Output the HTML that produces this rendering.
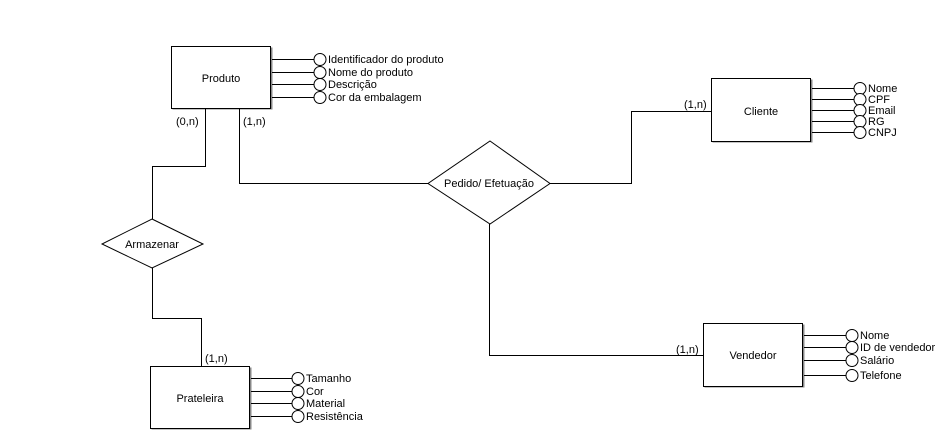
<!DOCTYPE html>
<html><head><meta charset="utf-8"><style>
html,body{margin:0;padding:0;background:#fff;}
svg{display:block;}
text{font-family:"Liberation Sans",sans-serif;font-size:11px;fill:#000;}
</style></head><body>
<svg width="947" height="437" viewBox="0 0 947 437" xmlns="http://www.w3.org/2000/svg">
<g stroke="#000" stroke-width="1" fill="none" shape-rendering="crispEdges">
<!-- shadows -->
<rect x="172.5" y="47.5" width="100" height="62" fill="#888" stroke="none"/>
<rect x="712.5" y="79.5" width="100" height="63" fill="#888" stroke="none"/>
<rect x="151.5" y="367.5" width="100" height="62" fill="#888" stroke="none"/>
<rect x="704.5" y="324.5" width="100" height="63" fill="#888" stroke="none"/>
<!-- boxes -->
<rect x="171.5" y="46.5" width="99" height="62" fill="#fff"/>
<rect x="711.5" y="78.5" width="99" height="63" fill="#fff"/>
<rect x="150.5" y="366.5" width="99" height="62" fill="#fff"/>
<rect x="703.5" y="323.5" width="99" height="63" fill="#fff"/>
<!-- connectors -->
<polyline points="205.5,109 205.5,166.5 152.5,166.5 152.5,219"/>
<polyline points="152.5,268 152.5,318.5 201.5,318.5 201.5,366"/>
<polyline points="239.5,109 239.5,183.5 428,183.5"/>
<polyline points="550,183.5 631.5,183.5 631.5,111.5 711,111.5"/>
<polyline points="489.5,224 489.5,355.5 703,355.5"/>
<!-- attribute lines -->
<line x1="272" y1="59.5" x2="314" y2="59.5"/>
<line x1="272" y1="72.5" x2="314" y2="72.5"/>
<line x1="272" y1="84.5" x2="314" y2="84.5"/>
<line x1="272" y1="97.5" x2="314" y2="97.5"/>
<line x1="812" y1="88.5" x2="854" y2="88.5"/>
<line x1="812" y1="99.5" x2="854" y2="99.5"/>
<line x1="812" y1="110.5" x2="854" y2="110.5"/>
<line x1="812" y1="121.5" x2="854" y2="121.5"/>
<line x1="812" y1="132.5" x2="854" y2="132.5"/>
<line x1="251" y1="378.5" x2="292" y2="378.5"/>
<line x1="251" y1="391.5" x2="292" y2="391.5"/>
<line x1="251" y1="403.5" x2="292" y2="403.5"/>
<line x1="251" y1="416.5" x2="292" y2="416.5"/>
<line x1="804" y1="335.5" x2="846" y2="335.5"/>
<line x1="804" y1="347.5" x2="846" y2="347.5"/>
<line x1="804" y1="360.5" x2="846" y2="360.5"/>
<line x1="804" y1="375.5" x2="846" y2="375.5"/>
</g>
<g stroke="#000" stroke-width="1" fill="#fff">
<polygon points="490,141 550,183.5 490,224 428,183.5"/>
<polygon points="152,219 203,244 152,268 102,244"/>
<circle cx="320" cy="59.5" r="6"/><circle cx="320" cy="72.5" r="6"/><circle cx="320" cy="84.5" r="6"/><circle cx="320" cy="97.5" r="6"/>
<circle cx="860" cy="88.5" r="6"/><circle cx="860" cy="99.5" r="6"/><circle cx="860" cy="110.5" r="6"/><circle cx="860" cy="121.5" r="6"/><circle cx="860" cy="132.5" r="6"/>
<circle cx="298" cy="378.5" r="6"/><circle cx="298" cy="391.5" r="6"/><circle cx="298" cy="403.5" r="6"/><circle cx="298" cy="416.5" r="6"/>
<circle cx="852" cy="335.5" r="6"/><circle cx="852" cy="347.5" r="6"/><circle cx="852" cy="360.5" r="6"/><circle cx="852" cy="375.5" r="6"/>
</g>
<text x="221" y="82" text-anchor="middle">Produto</text>
<text x="761" y="115" text-anchor="middle">Cliente</text>
<text x="200" y="402" text-anchor="middle">Prateleira</text>
<text x="753" y="359" text-anchor="middle">Vendedor</text>
<text x="489" y="187" text-anchor="middle">Pedido/ Efetuação</text>
<text x="152" y="248" text-anchor="middle">Armazenar</text>
<text x="176" y="125">(0,n)</text>
<text x="243" y="125">(1,n)</text>
<text x="684" y="108">(1,n)</text>
<text x="205" y="362">(1,n)</text>
<text x="676" y="353">(1,n)</text>
<text x="328" y="63">Identificador do produto</text>
<text x="328" y="76">Nome do produto</text>
<text x="328" y="88">Descrição</text>
<text x="328" y="101">Cor da embalagem</text>
<text x="868" y="92">Nome</text>
<text x="868" y="103">CPF</text>
<text x="868" y="114">Email</text>
<text x="868" y="125">RG</text>
<text x="868" y="136">CNPJ</text>
<text x="306" y="382">Tamanho</text>
<text x="306" y="395">Cor</text>
<text x="306" y="407">Material</text>
<text x="306" y="420">Resistência</text>
<text x="860" y="339">Nome</text>
<text x="860" y="351">ID de vendedor</text>
<text x="860" y="364">Salário</text>
<text x="860" y="379">Telefone</text>
</svg>
</body></html>
